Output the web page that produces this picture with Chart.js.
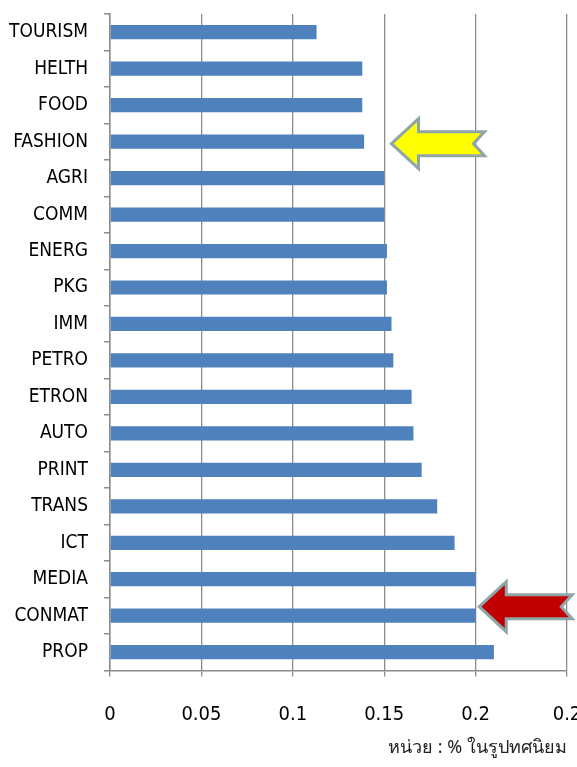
<!DOCTYPE html>
<html>
<head>
<meta charset="utf-8">
<script src="https://cdn.jsdelivr.net/npm/chart.js@4/dist/chart.umd.min.js"></script>
<style>
  html, body { margin: 0; padding: 0; background: #ffffff; }
  #wrap { position: relative; width: 577px; height: 767px; }
</style>
</head>
<body>
<div id="wrap"><canvas id="sectorChart"></canvas></div>
<script>
// sector names, top to bottom
const sectors = ['TOURISM', 'HELTH', 'FOOD', 'FASHION', 'AGRI', 'COMM', 'ENERG', 'PKG', 'IMM',
                 'PETRO', 'ETRON', 'AUTO', 'PRINT', 'TRANS', 'ICT', 'MEDIA', 'CONMAT', 'PROP'];

// values
const values = [0.113, 0.138, 0.138, 0.139, 0.150, 0.150, 0.1515, 0.1515, 0.154,
                0.155, 0.165, 0.166, 0.1705, 0.179, 0.1885, 0.200, 0.200, 0.210];

// x axis labels as printed (the last one is cut short in the original)
const tickValues = [0, 0.05, 0.1, 0.15, 0.2, 0.25];
const tickLabels = ['0', '0.05', '0.1', '0.15', '0.2', '0.2'];

// the two arrows: sector they point at, where the tip sits (axis value), colour
const arrows = [
    { sector: 'FASHION', tip: 0.154, fill: '#ffff00', dy: 2 },
    { sector: 'CONMAT', tip: 0.202, fill: '#c00000', dy: -9 }
];

const unitText = 'หน่วย : % ในรูปทศนิยม';

const labelFont = "'DejaVu Sans Condensed', 'Noto Sans', sans-serif";

// draws the block arrows next to the chosen bars
const arrowPlugin = {
    id: 'arrows',
    afterDatasetsDraw(chart) {
        const c = chart.ctx;
        const xs = chart.scales.x;
        const ys = chart.scales.y;
        arrows.forEach(a => {
            const i = sectors.indexOf(a.sector);
            const tip = xs.getPixelForValue(a.tip);
            const cy = ys.getPixelForValue(i) + a.dy;
            const len = 93, head = 27, hh = 25, sh = 12, notch = 11;
            c.save();
            c.beginPath();
            c.moveTo(tip, cy);
            c.lineTo(tip + head, cy - hh);
            c.lineTo(tip + head, cy - sh);
            c.lineTo(tip + len, cy - sh);
            c.lineTo(tip + len - notch, cy);
            c.lineTo(tip + len, cy + sh);
            c.lineTo(tip + head, cy + sh);
            c.lineTo(tip + head, cy + hh);
            c.closePath();
            c.fillStyle = a.fill;
            c.fill();
            c.lineWidth = 3;
            c.strokeStyle = '#8fa6a8';
            c.lineJoin = 'miter';
            c.stroke();
            c.restore();
        });
    }
};

const ctx = document.getElementById('sectorChart').getContext('2d');

const sectorChart = new Chart(ctx, {
    type: 'bar',
    data: {
        labels: sectors,
        datasets: [{
            data: values,
            backgroundColor: '#4f81bd',
            borderWidth: 0,
            categoryPercentage: 1,
            barPercentage: 0.39
        }]
    },
    options: {
        indexAxis: 'y',
        responsive: true,
        maintainAspectRatio: false,
        animation: false,
        layout: { padding: { top: 14, right: 10, left: 0, bottom: 8 } },
        plugins: {
            legend: { display: false },
            tooltip: { enabled: false },
            title: {
                display: true,
                text: unitText,
                position: 'bottom',
                align: 'end',
                color: '#222222',
                font: { family: "'Noto Sans', 'DejaVu Sans', sans-serif", size: 18, weight: 'normal' },
                padding: { top: 4, bottom: 0 }
            }
        },
        scales: {
            x: {
                min: 0,
                max: 0.25,
                afterBuildTicks(scale) {
                    scale.ticks = tickValues.map(v => ({ value: v }));
                },
                afterFit(scale) {
                    scale.height = 63;
                    scale.paddingLeft = 0;
                    scale.paddingRight = 0;
                },
                ticks: {
                    color: '#000000',
                    padding: 26,
                    maxRotation: 0,
                    font: { family: labelFont, size: 20 },
                    callback: (val, i) => tickLabels[i]
                },
                grid: {
                    color: '#8c8c8c',
                    lineWidth: 1.3,
                    tickLength: 6
                },
                border: { color: '#8c8c8c', width: 1.5 }
            },
            y: {
                afterFit(scale) {
                    scale.width = 110;
                    scale.paddingTop = 0;
                    scale.paddingBottom = 0;
                },
                ticks: {
                    color: '#000000',
                    padding: 16,
                    font: { family: labelFont, size: 19 }
                },
                grid: {
                    drawOnChartArea: false,
                    color: '#8c8c8c',
                    lineWidth: 1.5,
                    tickLength: 6
                },
                border: { color: '#8c8c8c', width: 1.5 }
            }
        }
    },
    plugins: [arrowPlugin]
});
</script>
</body>
</html>
